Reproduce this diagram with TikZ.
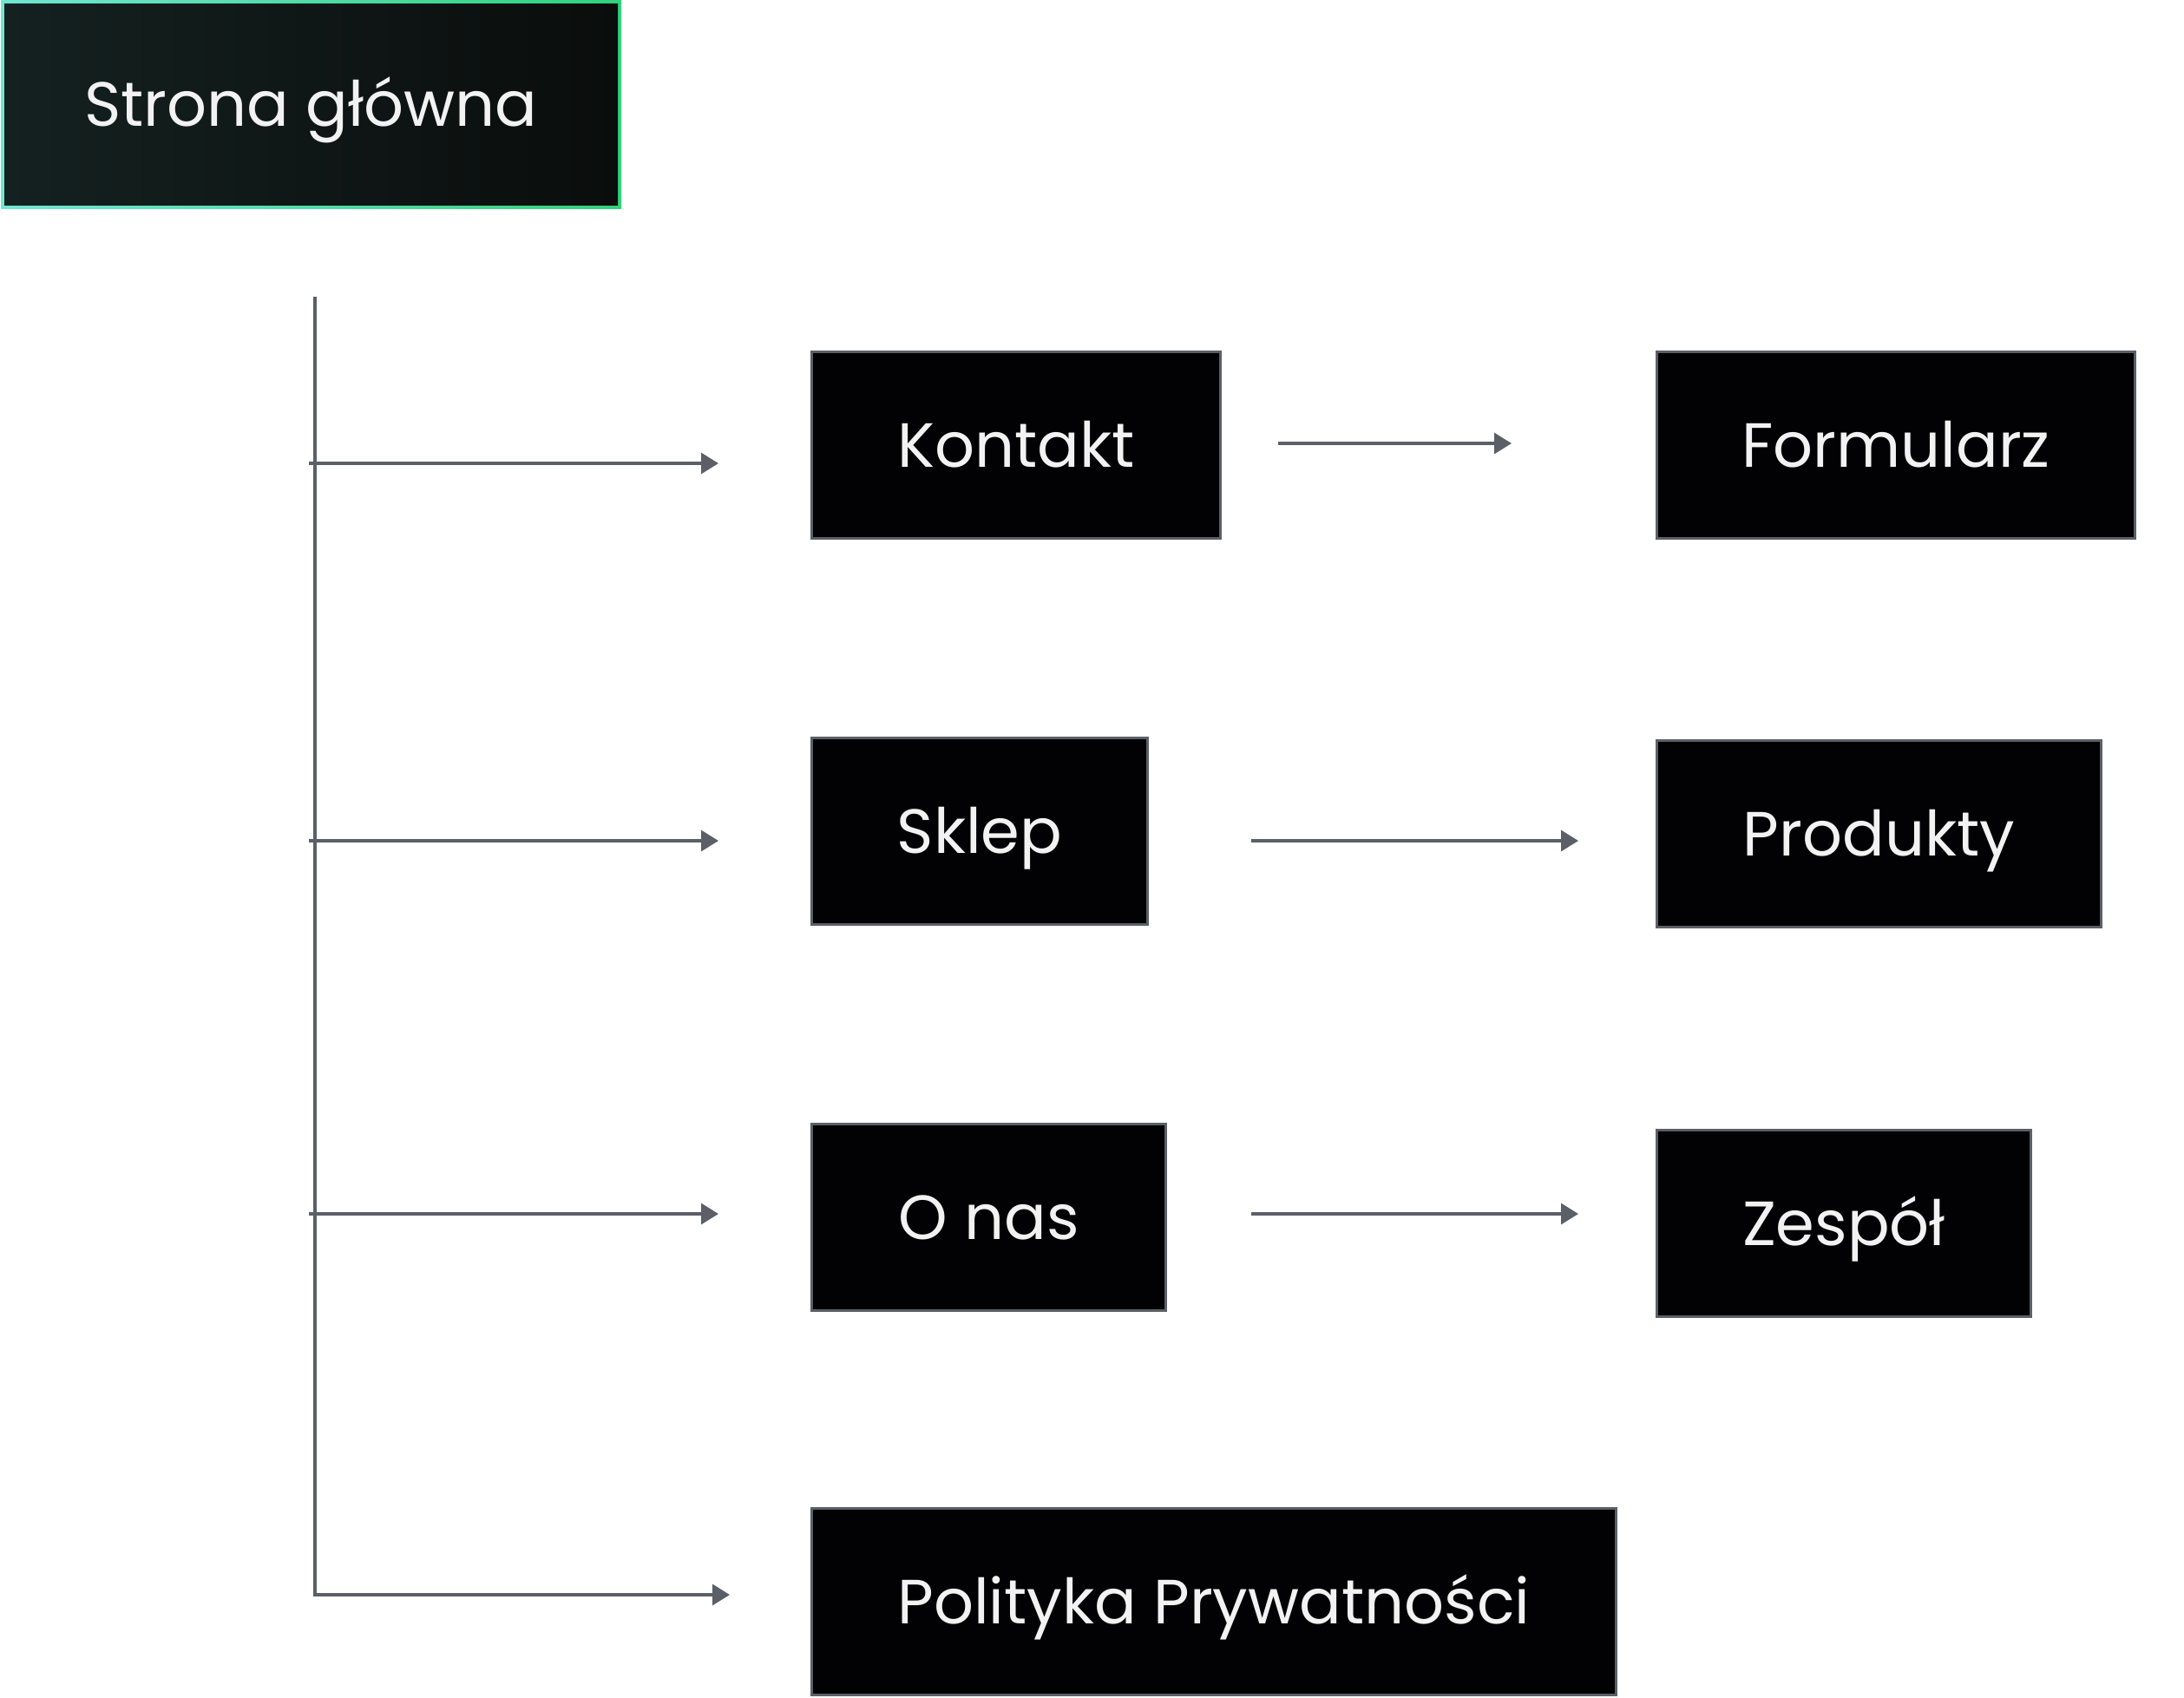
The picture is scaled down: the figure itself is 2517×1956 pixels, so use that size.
\documentclass[tikz,border=0pt]{standalone}
\usepackage{fontspec}
\setmainfont{Poppins}
\usetikzlibrary{arrows.meta, backgrounds}

\definecolor{linegray}{HTML}{5B5F67}
\definecolor{boxfill}{HTML}{020204}
\definecolor{boxtext}{HTML}{F2F2F2}
\definecolor{rootleft}{HTML}{142120}
\definecolor{rootright}{HTML}{0A0D0C}
\definecolor{glowleft}{HTML}{70E6D2}
\definecolor{glowright}{HTML}{2FD27C}

\begin{document}
\begin{tikzpicture}[x=0.5pt, y=-0.5pt, >={Triangle[length=10pt,width=12pt]},
    pagebox/.style={draw=linegray, fill=boxfill, line width=1.5pt, inner sep=0pt,
        minimum height=107.5pt, anchor=north west, text=boxtext,
        font=\fontsize{36}{40}\selectfont, text height=25pt, text depth=0pt},
    rootbox/.style={left color=rootleft, right color=rootright, inner sep=0pt,
        minimum width=353.5pt, minimum height=116pt, text=boxtext,
        font=\fontsize{36}{40}\selectfont, text height=25pt, text depth=0pt},
    link/.style={->, draw=linegray, line width=1.6pt}]
        \useasboundingbox (0,0) rectangle (2517,1956);

        % home page
        \node (root) [rootbox] at (358.5,120) {Strona główna};
        \begin{scope}[on background layer]
            \shade[left color=glowleft, right color=glowright] (1,0) rectangle (716,240);
        \end{scope}

        % first level
        \node (kontakt) [pagebox, minimum width=235.5pt] at (934,404) {Kontakt};
        \node (sklep) [pagebox, minimum width=193.5pt] at (934,849) {Sklep};
        \node (onas) [pagebox, minimum width=204pt] at (934,1294) {O nas};
        \node (polityka) [pagebox, minimum width=463.5pt] at (934,1737) {Polityka Prywatności};

        % second level
        \node (formularz) [pagebox, minimum width=275.5pt] at (1908,404) {Formularz};
        \node (produkty) [pagebox, minimum width=256pt] at (1908,852) {Produkty};
        \node (zespol) [pagebox, minimum width=215.5pt] at (1908,1301) {Zespół};

        %coordinates for the trunk
        \coordinate (top) at (363,342);
        \coordinate (bottom) at (363,1838);
        \coordinate (r1) at (356,534);
        \coordinate (r2) at (356,969);
        \coordinate (r3) at (356,1399);

        % trunk and branches
        \draw[link, shorten >=46.5pt] (top) -- (bottom) -- (polityka.west |- bottom);
        \draw[link, shorten >=53pt] (r1) -- (kontakt.west |- r1);
        \draw[link, shorten >=53pt] (r2) -- (sklep.west |- r2);
        \draw[link, shorten >=53pt] (r3) -- (onas.west |- r3);

        % subpages
        \draw[link, shorten <=32.5pt, shorten >=83pt] ([yshift=1pt]kontakt.east) -- ([yshift=1pt]formularz.west);
        \draw[link, shorten <=59pt, shorten >=44.5pt] (sklep.east |- r2) -- (produkty.west |- r2);
        \draw[link, shorten <=48.5pt, shorten >=44.5pt] (onas.east |- r3) -- (zespol.west |- r3);
    \end{tikzpicture}
\end{document}
